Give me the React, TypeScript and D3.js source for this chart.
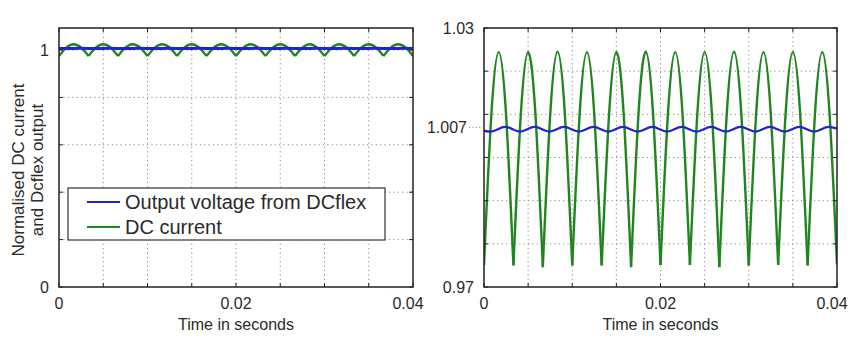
import React, { useEffect, useRef } from 'react';
import * as d3 from 'd3';

const timeTicks = [0, 0.005, 0.01, 0.015, 0.02, 0.025, 0.03, 0.035, 0.04];
const timeTickLabels = ['0', '', '', '', '0.02', '', '', '', '0.04'];
const leftTicks = [0, 0.2, 0.4, 0.6, 0.8, 1];
const leftTickLabels = ['0', '', '', '', '', '1'];
const rightTicks = [0.97, 0.98, 0.99, 1.0, 1.01, 1.02, 1.03];
const rightTickLabels = ['0.97', '', '', '', '', '', '1.03'];
const markedLevel = 1.007;

const seriesNames = ['Output voltage from DCflex', 'DC current'];

// DC current, one row per ripple cycle: trough, rising, peak, falling
const currentTime = [
  0, 0.000833, 0.001667, 0.0025,
  0.003333, 0.004167, 0.005, 0.005833,
  0.006667, 0.0075, 0.008333, 0.009167,
  0.01, 0.010833, 0.011667, 0.0125,
  0.013333, 0.014167, 0.015, 0.015833,
  0.016667, 0.0175, 0.018333, 0.019167,
  0.02, 0.020833, 0.021667, 0.0225,
  0.023333, 0.024167, 0.025, 0.025833,
  0.026667, 0.0275, 0.028333, 0.029167,
  0.03, 0.030833, 0.031667, 0.0325,
  0.033333, 0.034167, 0.035, 0.035833,
  0.036667, 0.0375, 0.038333, 0.039167,
  0.04,
];
const currentValue = [
  0.9751, 1.0099, 1.0244, 1.0099,
  0.9750, 1.0098, 1.0244, 1.0099,
  0.9746, 1.0098, 1.0245, 1.0099,
  0.9750, 1.0099, 1.0244, 1.0098,
  0.9750, 1.0098, 1.0244, 1.0099,
  0.9746, 1.0099, 1.0245, 1.0098,
  0.9751, 1.0098, 1.0244, 1.0099,
  0.9751, 1.0099, 1.0244, 1.0099,
  0.9746, 1.0098, 1.0245, 1.0098,
  0.9750, 1.0099, 1.0244, 1.0099,
  0.9751, 1.0098, 1.0244, 1.0099,
  0.9750, 1.0099, 1.0244, 1.0098,
  0.9752,
];

// DCflex output voltage: start, then alternating troughs and peaks, end
const voltageTime = [
  0, 0.00075, 0.0024, 0.00408, 0.00573, 0.00742, 0.00907, 0.01075, 0.0124,
  0.01408, 0.01573, 0.01742, 0.01907, 0.02075, 0.0224, 0.02408, 0.02573,
  0.02742, 0.02907, 0.03075, 0.0324, 0.03408, 0.03573, 0.03742, 0.03907, 0.04,
];
const voltageValue = [
  1.0062, 1.006, 1.0071, 1.006, 1.0071, 1.006, 1.0071, 1.006, 1.0071,
  1.006, 1.0071, 1.006, 1.0071, 1.006, 1.0071, 1.006, 1.0071,
  1.006, 1.0071, 1.006, 1.0071, 1.006, 1.0071, 1.006, 1.0071, 1.0067,
];

const BLUE = '#2323cc';
const GREEN = '#1f861f';
const TEXT = '#2a2a2a';
const FONT = '"Liberation Sans", Arial, Helvetica, sans-serif';

const App = () => {
  const svgRef = useRef<SVGSVGElement>(null);

  useEffect(() => {
    const svg = d3.select(svgRef.current);
    svg.selectAll('*').remove();

    const top = 28;
    const bottom = 287;

    const panels = [
      { left: 59, right: 413, domain: [0, (bottom - top) / (bottom - 50)], ticks: leftTicks, labels: leftTickLabels },
      { left: 484, right: 837, domain: [0.97, 1.03], ticks: rightTicks, labels: rightTickLabels },
    ];

    const current = currentTime.map((t, i) => [t, currentValue[i]] as [number, number]);
    const voltage = voltageTime.map((t, i) => [t, voltageValue[i]] as [number, number]);

    panels.forEach((p, pi) => {
      const x = d3.scaleLinear().domain([0, 0.04]).range([p.left, p.right]);
      const y = d3.scaleLinear().domain(p.domain).range([bottom, top]);
      const g = svg.append('g');

      const clipId = `clip${pi}`;
      svg.append('clipPath').attr('id', clipId)
        .append('rect')
        .attr('x', p.left).attr('y', top)
        .attr('width', p.right - p.left).attr('height', bottom - top);

      // dotted grid
      g.selectAll('.vgrid')
        .data(timeTicks.slice(1, -1))
        .enter().append('line')
        .attr('x1', d => x(d)).attr('x2', d => x(d))
        .attr('y1', top).attr('y2', bottom)
        .attr('stroke', '#8a8a8a').attr('stroke-width', 1)
        .attr('stroke-dasharray', '1.2,3.2');
      g.selectAll('.hgrid')
        .data(p.ticks.slice(1, -1).concat(pi === 0 ? [1] : []))
        .enter().append('line')
        .attr('x1', p.left).attr('x2', p.right)
        .attr('y1', d => y(d)).attr('y2', d => y(d))
        .attr('stroke', '#8a8a8a').attr('stroke-width', 1)
        .attr('stroke-dasharray', '1.2,3.2');

      // series
      const line = d3.line<[number, number]>()
        .x(d => x(d[0])).y(d => y(d[1]));

      const lines = g.append('g').attr('clip-path', `url(#${clipId})`);
      for (let k = 0; k + 4 < current.length; k += 4) {
        lines.append('path')
          .attr('d', line.curve(d3.curveNatural)(current.slice(k, k + 5)))
          .attr('fill', 'none').attr('stroke', GREEN)
          .attr('stroke-width', 2.4).attr('stroke-linejoin', 'round');
      }
      lines.append('path')
        .attr('d', line.curve(d3.curveMonotoneX)(voltage))
        .attr('fill', 'none').attr('stroke', BLUE)
        .attr('stroke-width', pi === 0 ? 3 : 2.4);

      // inward ticks on all four sides
      const tl = 4;
      timeTicks.forEach(t => {
        g.append('line').attr('x1', x(t)).attr('x2', x(t)).attr('y1', bottom).attr('y2', bottom - tl).attr('stroke', '#222');
        g.append('line').attr('x1', x(t)).attr('x2', x(t)).attr('y1', top).attr('y2', top + tl).attr('stroke', '#222');
      });
      p.ticks.forEach(v => {
        g.append('line').attr('x1', p.left).attr('x2', p.left + tl).attr('y1', y(v)).attr('y2', y(v)).attr('stroke', '#222');
        g.append('line').attr('x1', p.right).attr('x2', p.right - tl).attr('y1', y(v)).attr('y2', y(v)).attr('stroke', '#222');
      });

      // box
      g.append('rect')
        .attr('x', p.left).attr('y', top)
        .attr('width', p.right - p.left).attr('height', bottom - top)
        .attr('fill', 'none').attr('stroke', '#222').attr('stroke-width', 1.5);

      // tick labels
      g.selectAll('.xlab')
        .data(timeTicks.map((t, i) => ({ t, s: timeTickLabels[i] })).filter(d => d.s))
        .enter().append('text')
        .attr('x', d => x(d.t) - (d.t === 0.04 ? 5 : 0))
        .attr('y', 309)
        .attr('text-anchor', 'middle')
        .style('font-family', FONT).style('font-size', '16px').style('fill', TEXT)
        .text(d => d.s);

      g.selectAll('.ylab')
        .data(p.ticks.map((v, i) => ({ v, s: p.labels[i] })).filter(d => d.s))
        .enter().append('text')
        .attr('x', p.left - 10)
        .attr('y', d => y(d.v) + 6)
        .attr('text-anchor', 'end')
        .style('font-family', FONT).style('font-size', '16px').style('fill', TEXT)
        .text(d => d.s);

      g.append('text')
        .attr('x', (p.left + p.right) / 2)
        .attr('y', 330)
        .attr('text-anchor', 'middle')
        .style('font-family', FONT).style('font-size', '16px').style('fill', TEXT)
        .text('Time in seconds');

      if (pi === 1) {
        g.append('text')
          .attr('x', p.left - 17)
          .attr('y', y(markedLevel) + 6)
          .attr('text-anchor', 'end')
          .style('font-family', FONT).style('font-size', '16px').style('fill', TEXT)
          .text(String(markedLevel));
        g.append('line')
          .attr('x1', p.left - 15).attr('x2', p.left)
          .attr('y1', y(markedLevel)).attr('y2', y(markedLevel))
          .attr('stroke', '#8a8a8a').attr('stroke-dasharray', '1.2,2.2');
      }
    });

    // y axis title
    const yTitle = svg.append('text')
      .attr('transform', 'translate(0, 170) rotate(-90)')
      .attr('text-anchor', 'middle')
      .style('font-family', FONT).style('font-size', '17px').style('fill', TEXT);
    yTitle.append('tspan').attr('x', 0).attr('y', 24).text('Normalised DC current');
    yTitle.append('tspan').attr('x', 0).attr('y', 43).text('and Dcflex output');

    // legend
    const lg = svg.append('g');
    lg.append('rect')
      .attr('x', 68).attr('y', 188).attr('width', 317).attr('height', 52)
      .attr('fill', '#fff').attr('stroke', '#333').attr('stroke-width', 1.2);
    [BLUE, GREEN].forEach((c, i) => {
      const ly = 202 + i * 25;
      lg.append('line')
        .attr('x1', 87).attr('x2', 120).attr('y1', ly).attr('y2', ly)
        .attr('stroke', c).attr('stroke-width', 2);
      lg.append('text')
        .attr('x', 125).attr('y', ly + 7)
        .style('font-family', FONT).style('font-size', '20px').style('fill', TEXT)
        .text(seriesNames[i]);
    });
  }, []);

  return (
    <svg
      ref={svgRef}
      width={865}
      height={354}
      style={{ position: 'absolute', left: 0, top: 0, background: '#fff' }}
    />
  );
};

export default App;
